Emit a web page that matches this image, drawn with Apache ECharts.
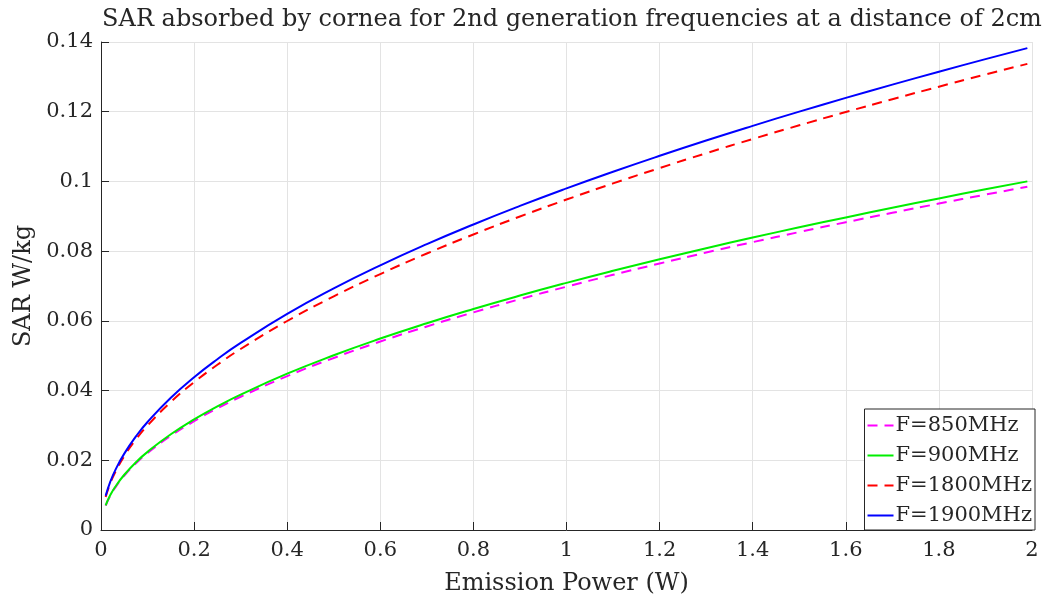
<!DOCTYPE html>
<html>
<head>
<meta charset="utf-8">
<script src="https://cdn.jsdelivr.net/npm/echarts@6/dist/echarts.min.js"></script>
<style>html,body{margin:0;padding:0;background:#fff}#c{width:1044px;height:605px}</style>
</head>
<body>
<div id="c"></div>
<script>
const power = [0.01, 0.02, 0.03, 0.05, 0.075, 0.1, 0.15, 0.2, 0.25, 0.3, 0.4, 0.5, 0.6, 0.7, 0.8, 0.9, 1.0, 1.1, 1.2, 1.3, 1.4, 1.5, 1.6, 1.7, 1.8, 1.9, 1.99];
const sar850 = [0.00698, 0.00987, 0.01209, 0.01561, 0.01912, 0.02207, 0.02703, 0.03121, 0.0349, 0.03823, 0.04415, 0.04936, 0.05407, 0.0584, 0.06243, 0.06622, 0.0698, 0.07321, 0.07646, 0.07959, 0.08259, 0.08548, 0.08829, 0.091, 0.09364, 0.09621, 0.09847];
const sar900 = [0.00709, 0.01003, 0.01228, 0.01585, 0.01942, 0.02242, 0.02746, 0.03171, 0.03545, 0.03883, 0.04484, 0.05013, 0.05492, 0.05932, 0.06341, 0.06726, 0.0709, 0.07436, 0.07766, 0.08084, 0.08389, 0.08683, 0.08968, 0.09244, 0.09512, 0.09773, 0.10002];
const sar1800 = [0.00948, 0.01341, 0.01642, 0.0212, 0.02597, 0.02998, 0.03672, 0.04239, 0.0474, 0.05192, 0.05996, 0.06703, 0.07343, 0.07932, 0.08479, 0.08994, 0.0948, 0.09943, 0.10384, 0.10809, 0.11217, 0.1161, 0.11991, 0.1236, 0.12718, 0.13067, 0.13373];
const sar1900 = [0.0098, 0.01386, 0.01697, 0.02191, 0.02684, 0.03099, 0.03796, 0.04383, 0.049, 0.05367, 0.06199, 0.0693, 0.07591, 0.082, 0.08765, 0.09297, 0.098, 0.10278, 0.10735, 0.11174, 0.11595, 0.12002, 0.12396, 0.12777, 0.13148, 0.13508, 0.13825];
const seriesNames = ['F=850MHz', 'F=900MHz', 'F=1800MHz', 'F=1900MHz'];
const titleText = 'SAR absorbed by cornea for 2nd generation frequencies at a distance of 2cm';
const xName = 'Emission Power (W)';
const yName = 'SAR W/kg';

const FONT = '"DejaVu Serif", "Liberation Serif", serif';
const pair = arr => power.map((p, i) => [p, arr[i]]);
const styles = [
  {color: '#ff00ff', type: [10, 7]},
  {color: '#00ee00', type: 'solid'},
  {color: '#ff0000', type: [10, 7]},
  {color: '#0000ff', type: 'solid'}
];
const datas = [sar850, sar900, sar1800, sar1900];

const chart = echarts.init(document.getElementById('c'));
chart.setOption({
  animation: false,
  backgroundColor: '#ffffff',
  title: {
    text: titleText, left: 567, top: 3, textAlign: 'center',
    textStyle: {fontFamily: FONT, fontSize: 24, fontWeight: 'normal', color: '#262626'}
  },
  grid: {left: 101, top: 42, right: 12, bottom: 75, containLabel: false},
  legend: {
    right: 9, bottom: 75, orient: 'vertical',
    data: seriesNames,
    itemWidth: 26, itemHeight: 12, itemGap: 9,
    padding: [6, 3, 4, 2],
    backgroundColor: '#ffffff', borderColor: '#262626', borderWidth: 1,
    itemStyle: {opacity: 0},
    textStyle: {fontFamily: FONT, fontSize: 21, color: '#262626', padding: [0, 0, 0, -3]}
  },
  xAxis: {
    type: 'value', min: 0, max: 2, interval: 0.2,
    name: xName, nameLocation: 'middle', nameGap: 42,
    nameTextStyle: {fontFamily: FONT, fontSize: 24, color: '#262626'},
    axisLine: {show: true, onZero: false, lineStyle: {color: '#262626', width: 1}},
    axisTick: {show: true, inside: true, length: 8, lineStyle: {color: '#262626'}},
    axisLabel: {fontFamily: FONT, fontSize: 21, color: '#262626', margin: 10},
    splitLine: {show: true, lineStyle: {color: '#e3e3e3', width: 1}}
  },
  yAxis: {
    type: 'value', min: 0, max: 0.14, interval: 0.02,
    name: yName, nameLocation: 'middle', nameGap: 64,
    nameTextStyle: {fontFamily: FONT, fontSize: 24, color: '#262626'},
    axisLine: {show: true, onZero: false, lineStyle: {color: '#262626', width: 1}},
    axisTick: {show: true, inside: true, length: 8, lineStyle: {color: '#262626'}},
    axisLabel: {fontFamily: FONT, fontSize: 21, color: '#262626', margin: 8},
    splitLine: {show: true, lineStyle: {color: '#e3e3e3', width: 1}}
  },
  series: seriesNames.map((n, i) => ({
    name: n, type: 'line', data: pair(datas[i]),
    showSymbol: false, symbol: 'none', smooth: true,
    lineStyle: {color: styles[i].color, type: styles[i].type, width: 2},
    itemStyle: {color: styles[i].color}
  }))
});
</script>
</body>
</html>
